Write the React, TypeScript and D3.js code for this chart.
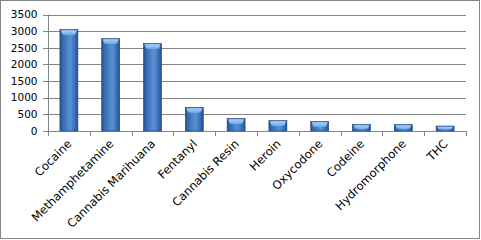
import React from "react";
import * as d3 from "d3";

const categories = [
  "Cocaine",
  "Methamphetamine",
  "Cannabis Marihuana",
  "Fentanyl",
  "Cannabis Resin",
  "Heroin",
  "Oxycodone",
  "Codeine",
  "Hydromorphone",
  "THC",
];
const values = [3050, 2780, 2630, 710, 376, 315, 285, 195, 195, 150];
const yTicks = [0, 500, 1000, 1500, 2000, 2500, 3000, 3500];

const W = 481;
const H = 240;
const left = 48;
const right = 466;
const top = 14.5;
const bottom = 131;
const FONT = "'DejaVu Sans', Verdana, sans-serif";

export default function App() {
  const x = d3.scaleBand<string>().domain(categories).range([left, right]).padding(0);
  const y = d3.scaleLinear().domain([0, 3500]).range([bottom, top]);
  const step = x.step();
  const bw = step * 0.43;
  const grid = "#868686";

  return (
    <svg
      width={W}
      height={H}
      style={{ position: "absolute", left: 0, top: 0, background: "#fff" }}
    >
      <defs>
        <linearGradient id="barG" x1="0" x2="1" y1="0" y2="0">
          <stop offset="0" stopColor="#234d88" />
          <stop offset="0.12" stopColor="#3467ab" />
          <stop offset="0.45" stopColor="#4f87cd" />
          <stop offset="0.6" stopColor="#5690d6" />
          <stop offset="0.88" stopColor="#3467ab" />
          <stop offset="1" stopColor="#234d88" />
        </linearGradient>
        <linearGradient id="capG" x1="0" x2="0" y1="0" y2="1">
          <stop offset="0" stopColor="#a9d2fa" />
          <stop offset="1" stopColor="#6aa6e8" />
        </linearGradient>
      </defs>
      <rect x={0.5} y={0.5} width={479} height={238} fill="#fff" stroke="#868686" />
      {yTicks.map((t) => (
        <g key={t}>
          <line
            x1={left - 5}
            x2={right}
            y1={Math.round(y(t)) + 0.5}
            y2={Math.round(y(t)) + 0.5}
            stroke={grid}
            strokeWidth={1}
          />
          <text
            x={37.5}
            y={y(t)}
            dy="0.36em"
            textAnchor="end"
            fontFamily={FONT}
            fontSize={10.5}
            fill="#000"
          >
            {t}
          </text>
        </g>
      ))}
      <line x1={left + 0.5} x2={left + 0.5} y1={y(3500)} y2={bottom + 0.5} stroke={grid} />
      {categories.map((c) => (
        <line
          key={"tk" + c}
          x1={Math.round(x(c)!) + 0.5}
          x2={Math.round(x(c)!) + 0.5}
          y1={bottom}
          y2={bottom + 5}
          stroke={grid}
        />
      ))}
      <line x1={right + 0.5} x2={right + 0.5} y1={bottom} y2={bottom + 5} stroke={grid} />
      {categories.map((c, i) => {
        const cx = x(c)! + step / 2;
        const x0 = cx - bw / 2;
        const yt = y(values[i]);
        const h = bottom - yt;
        const capH = Math.min(5, h * 0.6);
        return (
          <g key={c}>
            <rect x={x0} y={yt} width={bw} height={h} fill="url(#barG)" stroke="#1f4478" strokeWidth={0.6} />
            <path
              d={`M${x0 + 1},${yt + 0.8} L${x0 + bw - 1},${yt + 0.8} L${x0 + bw - 2.5},${yt + capH} Q${cx},${yt + capH + 1.5} ${x0 + 2.5},${yt + capH} Z`}
              fill="url(#capG)"
            />
          </g>
        );
      })}
      {categories.map((c) => {
        const cx = x(c)! + step / 2;
        const ax = cx + 3.5;
        const ay = 144.5;
        return (
          <text
            key={"lb" + c}
            x={ax}
            y={ay}
            textAnchor="end"
            transform={`rotate(-45 ${ax} ${ay})`}
            fontFamily={FONT}
            fontSize={11.6}
            fill="#000"
          >
            {c}
          </text>
        );
      })}
    </svg>
  );
}
